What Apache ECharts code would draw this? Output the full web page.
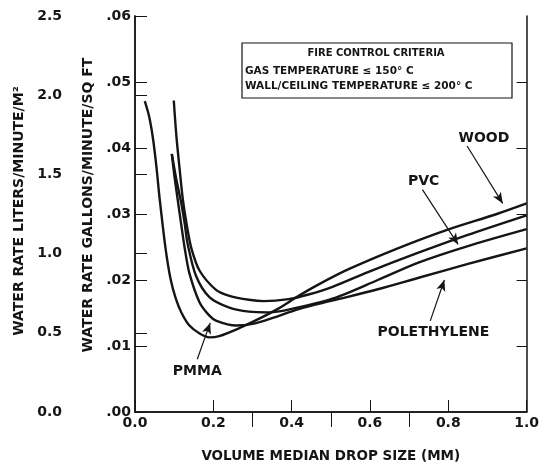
<!DOCTYPE html>
<html>
<head>
<meta charset="utf-8">
<script src="https://cdn.jsdelivr.net/npm/echarts@6/dist/echarts.min.js"></script>
<style>
html,body{margin:0;padding:0;background:#fff;}
#c{width:542px;height:468px;}
</style>
</head>
<body>
<div id="c"></div>
<script>
// ---- data (x = volume median drop size, mm; y = water rate, gal/min/sq ft) ----
const woodX = [0.025,0.036,0.046,0.055,0.063,0.078,0.091,0.104,0.119,0.139,0.165,0.190,0.215,0.266,0.316,0.367,0.418,0.468,0.544,0.671,0.797,0.924,1.0];
const woodY = [0.0471,0.0448,0.0414,0.0370,0.0323,0.0248,0.0201,0.0172,0.0150,0.0131,0.0119,0.0113,0.0115,0.0127,0.0141,0.0157,0.0176,0.0193,0.0216,0.0248,0.0276,0.0300,0.0316];

const pvcX = [0.099,0.106,0.114,0.122,0.132,0.144,0.165,0.207,0.241,0.291,0.329,0.392,0.443,0.506,0.595,0.722,0.848,1.0];
const pvcY = [0.0472,0.0416,0.0368,0.0323,0.0284,0.0248,0.0214,0.0185,0.0176,0.0170,0.0168,0.0171,0.0178,0.0190,0.0212,0.0241,0.0268,0.0298];

const pmmaX = [0.094,0.106,0.118,0.127,0.134,0.156,0.190,0.241,0.291,0.342,0.392,0.506,0.620,0.722,0.848,1.0];
const pmmaY = [0.0391,0.0351,0.0317,0.0285,0.0256,0.0206,0.0174,0.0158,0.0152,0.0151,0.0155,0.0172,0.0200,0.0226,0.0251,0.0277];

const polyX = [0.094,0.101,0.109,0.119,0.127,0.139,0.165,0.190,0.208,0.258,0.304,0.354,0.418,0.506,0.620,0.722,0.848,1.0];
const polyY = [0.0391,0.0356,0.0322,0.0280,0.0248,0.0210,0.0166,0.0146,0.0138,0.0131,0.0134,0.0143,0.0156,0.0169,0.0186,0.0203,0.0224,0.0248];

// tick labels
const galTicks = [0, 0.01, 0.02, 0.03, 0.04, 0.05, 0.06];
const literTicks = [0, 0.5, 1.0, 1.5, 2.0, 2.5];
const xTicks = [0, 0.2, 0.4, 0.6, 0.8, 1.0];
const topTicks = [0.3, 0.5, 0.7];
const rightTicks = [0.01, 0.02, 0.03, 0.04, 0.05];

// annotation labels: [name, x, y] and arrows [x1,y1,x2,y2] in data units
const labels = [
  ['WOOD', 0.891, 0.0414],
  ['PVC', 0.737, 0.0350],
  ['POLETHYLENE', 0.762, 0.0120],
  ['PMMA', 0.159, 0.0062]
];
const arrows = [
  [0.848, 0.0403, 0.939, 0.0316],
  [0.734, 0.0337, 0.825, 0.0254],
  [0.754, 0.0138, 0.790, 0.0200],
  [0.159, 0.0080, 0.192, 0.0135]
];

const INK = '#151515';
const FONT = 'DejaVu Sans';
const zip = (xs, ys) => xs.map((x, i) => [x, ys[i]]);

function curve(name, xs, ys, extra) {
  return Object.assign({
    name: name,
    type: 'line',
    data: zip(xs, ys),
    smooth: 0.3,
    showSymbol: false,
    symbol: 'none',
    lineStyle: { color: INK, width: 2.4 },
    itemStyle: { color: INK },
    animation: false,
    silent: true,
    z: 5
  }, extra || {});
}

const chart = echarts.init(document.getElementById('c'), null, { renderer: 'canvas' });

const option = {
  backgroundColor: '#ffffff',
  animation: false,
  textStyle: { fontFamily: FONT, color: INK },
  grid: { left: 135, right: 11, top: 16, bottom: 53 },
  xAxis: [
    {
      type: 'value', position: 'bottom', min: 0, max: 1, interval: 0.2,
      axisLine: { show: true, lineStyle: { color: INK, width: 1.5 } },
      axisTick: { show: true, inside: true, length: 12, lineStyle: { color: INK, width: 1 } },
      axisLabel: { margin: 4, color: INK, fontFamily: FONT, fontWeight: 'bold', fontSize: 14,
        formatter: v => v.toFixed(1), customValues: xTicks },
      splitLine: { show: false },
      name: 'VOLUME MEDIAN DROP SIZE (MM)', nameLocation: 'middle', nameGap: 37,
      nameTextStyle: { color: INK, fontFamily: FONT, fontWeight: 'bold', fontSize: 13.5 }
    },
    {
      type: 'value', position: 'top', min: 0, max: 1,
      axisLine: { show: true, lineStyle: { color: INK, width: 1.5 } },
      axisTick: { show: true, inside: true, length: 15, lineStyle: { color: INK, width: 1 }, customValues: topTicks },
      axisLabel: { show: true, customValues: topTicks, formatter: () => '' },
      splitLine: { show: false }
    }
  ],
  yAxis: [
    {
      type: 'value', position: 'left', min: 0, max: 0.06, interval: 0.01,
      axisLine: { show: true, lineStyle: { color: INK, width: 1.5 } },
      axisTick: { show: true, inside: true, length: 12, lineStyle: { color: INK, width: 1 } },
      axisLabel: { margin: 4, color: INK, fontFamily: FONT, fontWeight: 'bold', fontSize: 14,
        customValues: galTicks, formatter: v => v.toFixed(2).replace(/^0/, '') },
      splitLine: { show: false },
      name: 'WATER RATE GALLONS/MINUTE/SQ FT', nameLocation: 'middle', nameGap: 40, nameRotate: 90,
      nameTextStyle: { color: INK, fontFamily: FONT, fontWeight: 'bold', fontSize: 14, padding: [0, 0, 0, 18] }
    },
    {
      type: 'value', position: 'left', offset: 68, min: 0, max: 2.5, interval: 0.5,
      axisLine: { show: true, lineStyle: { color: INK, width: 1.5 } },
      axisTick: { show: true, inside: true, length: 12, lineStyle: { color: INK, width: 1 } },
      axisLabel: { margin: 5, color: INK, fontFamily: FONT, fontWeight: 'bold', fontSize: 14,
        customValues: literTicks, formatter: v => v.toFixed(1) },
      splitLine: { show: false },
      name: 'WATER RATE LITERS/MINUTE/M²', nameLocation: 'middle', nameGap: 40, nameRotate: 90,
      nameTextStyle: { color: INK, fontFamily: FONT, fontWeight: 'bold', fontSize: 14, padding: [0, 0, 0, 6] }
    },
    {
      type: 'value', position: 'right', min: 0, max: 0.06,
      axisLine: { show: true, lineStyle: { color: INK, width: 1.5 } },
      axisTick: { show: true, inside: true, length: 10, lineStyle: { color: INK, width: 1 }, customValues: rightTicks },
      axisLabel: { show: true, customValues: rightTicks, formatter: () => '' },
      splitLine: { show: false }
    }
  ],
  graphic: [
    { type: 'rect', shape: { x: 242, y: 43, width: 270, height: 55 },
      style: { fill: '#fff', stroke: INK, lineWidth: 1.2 }, z: 10 },
    { type: 'text', x: 376, y: 53, z: 11,
      style: { text: 'FIRE CONTROL CRITERIA', fill: INK, font: 'bold 10px "DejaVu Sans"', align: 'center', verticalAlign: 'middle' } },
    { type: 'text', x: 245, y: 71, z: 11,
      style: { text: 'GAS TEMPERATURE ≤ 150° C', fill: INK, font: 'bold 10.5px "DejaVu Sans"', align: 'left', verticalAlign: 'middle' } },
    { type: 'text', x: 245, y: 86, z: 11,
      style: { text: 'WALL/CEILING TEMPERATURE ≤ 200° C', fill: INK, font: 'bold 10.5px "DejaVu Sans"', align: 'left', verticalAlign: 'middle' } }
  ],
  series: [
    curve('Wood', woodX, woodY, {
      markLine: {
        silent: true, animation: false,
        symbol: ['none', 'arrow'], symbolSize: 10,
        label: { show: false },
        lineStyle: { color: INK, width: 1.2, type: 'solid' },
        data: arrows.map(a => [
          { coord: [a[0], a[1]], symbol: 'none' },
          { coord: [a[2], a[3]], symbol: 'arrow', symbolSize: [7, 11] }
        ])
      },
      markPoint: {
        silent: true, animation: false, symbol: 'circle', symbolSize: 0,
        label: { show: true, position: 'inside', color: INK, fontFamily: FONT, fontWeight: 'bold', fontSize: 14, formatter: p => p.name },
        data: labels.map(l => ({ name: l[0], coord: [l[1], l[2]] }))
      }
    }),
    curve('PVC', pvcX, pvcY),
    curve('PMMA', pmmaX, pmmaY),
    curve('Polethylene', polyX, polyY)
  ]
};

chart.setOption(option);
</script>
</body>
</html>
